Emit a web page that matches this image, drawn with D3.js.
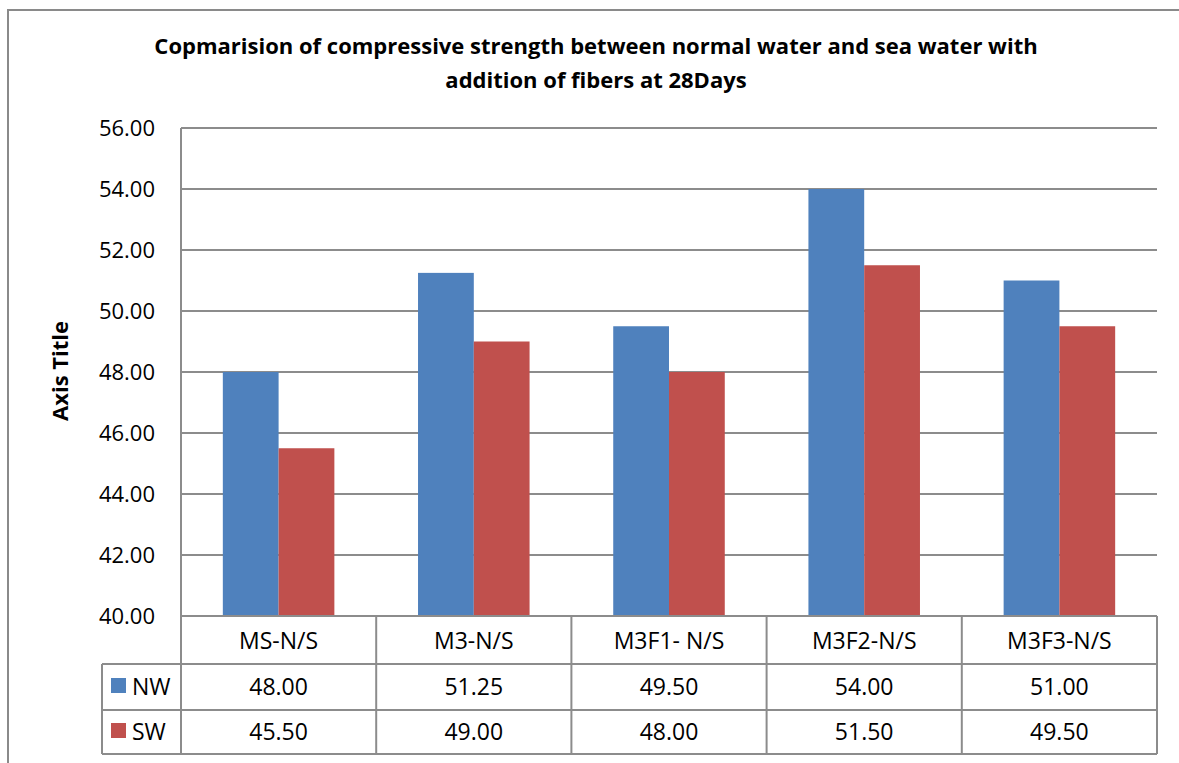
<!DOCTYPE html>
<html>
<head>
<meta charset="utf-8">
<script src="https://cdn.jsdelivr.net/npm/d3@7"></script>
<style>
  html, body { margin: 0; padding: 0; background: #fff; overflow: hidden; }
  svg { display: block; }
  svg text { font-family: "Open Sans", "Liberation Sans", sans-serif; fill: #000; }
</style>
</head>
<body>
<svg id="chart" width="1179" height="763"></svg>
<script>
// Compressive strength at 28 days (N/mm²)
const categories = ["MS-N/S", "M3-N/S", "M3F1- N/S", "M3F2-N/S", "M3F3-N/S"];
const seriesNames = ["NW", "SW"];
const nwValues = [48.00, 51.25, 49.50, 54.00, 51.00];
const swValues = [45.50, 49.00, 48.00, 51.50, 49.50];
const yTicks = [40, 42, 44, 46, 48, 50, 52, 54, 56];
const titleLines = [
  "Copmarision of compressive strength between normal water and sea water with",
  "addition of fibers at 28Days"
];
const yAxisTitle = "Axis Title";

const colors = { NW: "#4F81BD", SW: "#C0504D" };
const gridColor = "#8c8c8c";

const svg = d3.select("#chart");
const W = 1179, H = 763;

// Chart-area frame: top and left edges (the rest runs past the page)
svg.append("path")
  .attr("d", `M${W},10 H8 V${H}`)
  .attr("fill", "none").attr("stroke", "#8a8a8a").attr("stroke-width", 2);

const plot = { left: 181, right: 1157, top: 128, bottom: 616 };
const table = { legendLeft: 102, catRow: 664, nwRow: 710, swRow: 754 };

const x = d3.scaleBand().domain(categories).range([plot.left, plot.right]);
const barW = x.bandwidth() / 3.5;
const xs = d3.scaleBand().domain(seriesNames).range([0, barW * 2]);
const y = d3.scaleLinear().domain([40, 56]).range([plot.bottom, plot.top]);

// Title
svg.append("g").selectAll("text").data(titleLines).join("text")
  .attr("x", 596).attr("y", (d, i) => 54 + i * 34)
  .attr("text-anchor", "middle")
  .attr("font-size", 22).attr("font-weight", "bold")
  .text(d => d);

// Horizontal gridlines
svg.append("g").selectAll("line").data(yTicks.slice(1)).join("line")
  .attr("x1", plot.left).attr("x2", plot.right)
  .attr("y1", d => y(d)).attr("y2", d => y(d))
  .attr("stroke", gridColor).attr("stroke-width", 2);

// Y-axis tick labels
const yAxis = d3.axisLeft(y).tickValues(yTicks).tickFormat(d3.format(".2f")).tickSize(0).tickPadding(26);
const yg = svg.append("g").attr("transform", `translate(${plot.left},0)`).call(yAxis);
yg.select(".domain").remove();
yg.selectAll("text").attr("font-size", 22).attr("font-family", "\"Open Sans\", sans-serif").attr("fill", "#000");

// Y-axis title
svg.append("text")
  .attr("transform", `translate(68,371) rotate(-90)`)
  .attr("text-anchor", "middle")
  .attr("font-size", 22).attr("font-weight", "bold")
  .text(yAxisTitle);

// Bars
const rows = categories.map((c, i) => ({ cat: c, NW: nwValues[i], SW: swValues[i] }));
const groups = svg.append("g").selectAll("g").data(rows).join("g")
  .attr("transform", d => `translate(${x(d.cat) + (x.bandwidth() - barW * 2) / 2},0)`);
groups.selectAll("rect").data(d => seriesNames.map(s => ({ s, v: d[s] }))).join("rect")
  .attr("x", d => xs(d.s)).attr("width", xs.bandwidth())
  .attr("y", d => y(d.v)).attr("height", d => y(40) - y(d.v))
  .attr("fill", d => colors[d.s]);

// Vertical axis line
svg.append("line")
  .attr("x1", plot.left).attr("x2", plot.left)
  .attr("y1", plot.top).attr("y2", table.swRow)
  .attr("stroke", gridColor).attr("stroke-width", 2);

// Data table grid
const tg = svg.append("g").attr("stroke", gridColor).attr("stroke-width", 2);
tg.append("line").attr("x1", plot.left).attr("x2", plot.right).attr("y1", plot.bottom).attr("y2", plot.bottom);
[table.catRow, table.nwRow, table.swRow].forEach(yy => {
  tg.append("line").attr("x1", table.legendLeft).attr("x2", plot.right).attr("y1", yy).attr("y2", yy);
});
tg.append("line").attr("x1", table.legendLeft).attr("x2", table.legendLeft).attr("y1", table.catRow).attr("y2", table.swRow);
categories.forEach(c => {
  const xr = x(c) + x.bandwidth();
  tg.append("line").attr("x1", xr).attr("x2", xr).attr("y1", plot.bottom).attr("y2", table.swRow);
});

// Category labels
svg.append("g").selectAll("text").data(categories).join("text")
  .attr("x", d => x(d) + x.bandwidth() / 2)
  .attr("y", (plot.bottom + table.catRow) / 2 + 9)
  .attr("text-anchor", "middle").attr("font-size", 23)
  .text(d => d);

// Value rows with legend keys
const seriesRows = [
  { name: "NW", values: nwValues, top: table.catRow, bottom: table.nwRow },
  { name: "SW", values: swValues, top: table.nwRow, bottom: table.swRow }
];
seriesRows.forEach(r => {
  const mid = (r.top + r.bottom) / 2;
  svg.append("rect")
    .attr("x", 111).attr("y", mid - 9).attr("width", 15).attr("height", 15)
    .attr("fill", colors[r.name]);
  svg.append("text")
    .attr("x", 132).attr("y", mid + 8)
    .attr("font-size", 23).text(r.name);
  svg.append("g").selectAll("text").data(r.values).join("text")
    .attr("x", (d, i) => x(categories[i]) + x.bandwidth() / 2)
    .attr("y", mid + 8)
    .attr("text-anchor", "middle").attr("font-size", 23)
    .text(d => d3.format(".2f")(d));
});
</script>
</body>
</html>
